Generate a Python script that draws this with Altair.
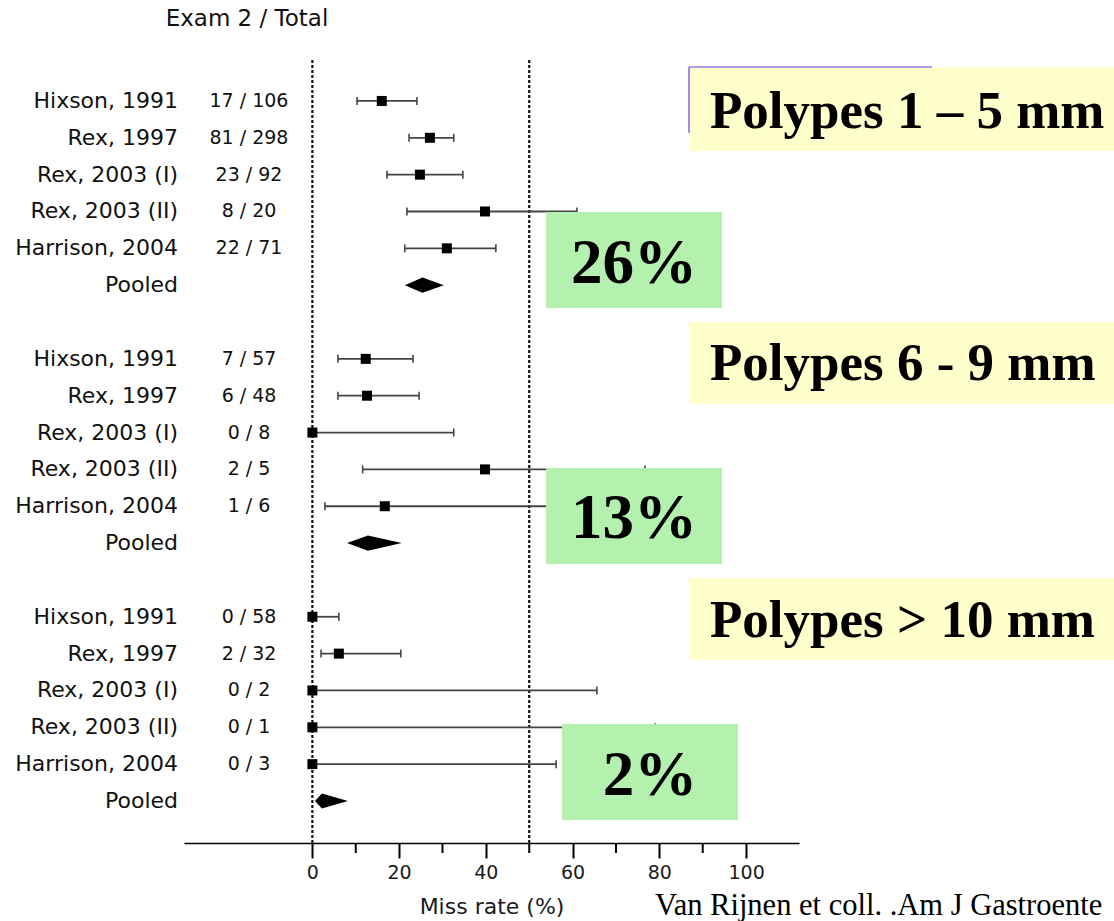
import altair as alt
import pandas as pd

# ---------------- data ----------------
studies = ["Hixson, 1991", "Rex, 1997", "Rex, 2003 (I)", "Rex, 2003 (II)", "Harrison, 2004"]
counts_1 = ["17 / 106", "81 / 298", "23 / 92", "8 / 20", "22 / 71"]
counts_2 = ["7 / 57", "6 / 48", "0 / 8", "2 / 5", "1 / 6"]
counts_3 = ["0 / 58", "2 / 32", "0 / 2", "0 / 1", "0 / 3"]

est_1 = [16.0, 27.1, 24.8, 39.8, 31.0]
lo_1 = [10.3, 22.3, 17.2, 21.8, 21.3]
hi_1 = [24.1, 32.6, 34.7, 61.0, 42.3]

est_2 = [12.3, 12.6, 0.0, 39.8, 16.7]
lo_2 = [5.9, 5.9, 0.0, 11.6, 2.9]
hi_2 = [23.2, 24.6, 32.6, 76.7, 64.0]

est_3 = [0.0, 6.1, 0.0, 0.0, 0.0]
lo_3 = [0.0, 2.0, 0.0, 0.0, 0.0]
hi_3 = [6.1, 20.4, 65.6, 79.0, 56.2]

pooled_est = [25.4, 12.8, 2.2]
pooled_lo = [21.3, 8.0, 0.6]
pooled_hi = [30.3, 20.6, 8.2]

ref_lines = [0, 50]
major_ticks = [0, 20, 40, 60, 80, 100]
minor_ticks = [10, 30, 50, 70, 90]

group_titles = ["Polypes 1 \u2013 5 mm", "Polypes 6 - 9 mm", "Polypes > 10 mm"]
group_pcts = ["26%", "13%", "2%"]

# ---------------- tables ----------------
counts = [counts_1, counts_2, counts_3]
ests = [est_1, est_2, est_3]
los = [lo_1, lo_2, lo_3]
his = [hi_1, hi_2, hi_3]

rows = []
labels = []
for g in range(3):
    for j in range(5):
        r = 7 * g + j
        rows.append(dict(row=r, est=ests[g][j], lo=los[g][j], hi=his[g][j]))
        labels.append(dict(row=r, name=studies[j], count=counts[g][j]))
    labels.append(dict(row=7 * g + 5, name="Pooled", count=""))
df = pd.DataFrame(rows)
lab = pd.DataFrame(labels)

caps = pd.DataFrame(
    [dict(row=r["row"], v=r["lo"]) for r in rows] + [dict(row=r["row"], v=r["hi"]) for r in rows]
)

H = 0.205  # half height of the pooled diamond in row units
dia = []
for g in range(3):
    r = 7 * g + 5
    dia.append(dict(grp=g, x=pooled_lo[g], y1=r, y2=r))
    dia.append(dict(grp=g, x=pooled_est[g], y1=r - H, y2=r + H))
    dia.append(dict(grp=g, x=pooled_hi[g], y1=r, y2=r))
dia = pd.DataFrame(dia)

# ---------------- scales ----------------
x_scale = alt.Scale(domain=[-29.6, 112.2], nice=False, zero=False)
y_scale = alt.Scale(domain=[-2.74, 20.14], nice=False, zero=False, reverse=True)
x_axis = alt.Axis(
    values=major_ticks, tickSize=15, tickWidth=2, tickColor="black",
    domainColor="black", domainWidth=1.5, grid=False,
    labelFont="DejaVu Sans", labelFontSize=19, labelColor="#1a1a1a", labelPadding=5,
    title="Miss rate (%)", titleFont="DejaVu Sans", titleFontSize=22,
    titleFontWeight="normal", titleColor="#1a1a1a", titlePadding=14,
)

def X(field):
    return alt.X(field, scale=x_scale, axis=x_axis)

def Y(field):
    return alt.Y(field, scale=y_scale, axis=None)

base = alt.Chart(df)

ref = alt.Chart(pd.DataFrame({"v": ref_lines})).mark_rule(
    color="#111", strokeWidth=2.2, strokeDash=[3, 2]
).encode(x=X("v:Q"), y=alt.value(60), y2=alt.value(843))

minor = alt.Chart(pd.DataFrame({"v": minor_ticks})).mark_rule(
    color="black", strokeWidth=2
).encode(x=X("v:Q"), y=alt.value(843), y2=alt.value(853))

ci = base.mark_rule(color="#444", strokeWidth=1.8).encode(
    x=X("lo:Q"), x2="hi:Q", y=Y("row:Q")
)
capm = alt.Chart(caps).mark_tick(
    orient="vertical", size=8, thickness=1.6, color="#444", opacity=1
).encode(x=X("v:Q"), y=Y("row:Q"))
sq = base.mark_square(size=100, color="black", opacity=1).encode(
    x=X("est:Q"), y=Y("row:Q")
)
diamond = alt.Chart(dia).mark_area(color="black", opacity=1).encode(
    x=X("x:Q"), y=Y("y1:Q"), y2="y2:Q", detail="grp:N"
)

names = alt.Chart(lab).mark_text(
    align="right", baseline="middle", font="DejaVu Sans", fontSize=22, color="#111"
).encode(x=alt.value(-6), y=Y("row:Q"), text="name:N")
cnts = alt.Chart(lab).mark_text(
    align="center", baseline="middle", font="DejaVu Sans", fontSize=19, color="#111"
).encode(x=alt.value(65), y=Y("row:Q"), text="count:N")

one = pd.DataFrame({"a": [0]})
header = alt.Chart(one).mark_text(
    text="Exam 2 / Total", align="center", baseline="middle",
    font="DejaVu Sans", fontSize=23, color="#111"
).encode(x=alt.value(63), y=alt.value(19))

layers = [ref, minor, ci, capm, sq, diamond, names, cnts, header]

# yellow title boxes
ybox = [(67, 151, 128), (322, 404, 380), (578, 660, 637)]
for (t, b, base_y), txt in zip(ybox, group_titles):
    layers.append(alt.Chart(one).mark_rect(color="#FFFFCC").encode(
        x=alt.value(505), x2=alt.value(940), y=alt.value(t), y2=alt.value(b)))
    layers.append(alt.Chart(one).mark_text(
        text=txt, align="left", baseline="alphabetic", font="Liberation Serif",
        fontWeight="bold", fontSize=53, color="black"
    ).encode(x=alt.value(526), y=alt.value(base_y)))

# purple frame fragment on first box
layers.append(alt.Chart(one).mark_rule(color="#6A3DE8", strokeWidth=1.2).encode(
    x=alt.value(505), x2=alt.value(748), y=alt.value(67)))
layers.append(alt.Chart(one).mark_rule(color="#6A3DE8", strokeWidth=1.2).encode(
    x=alt.value(505), y=alt.value(67), y2=alt.value(133)))

# green percentage boxes
gbox = [(362, 538, 212, 308, 283), (362, 538, 468, 564, 538), (378, 554, 724, 820, 795)]
for (l, r, t, b, base_y), txt in zip(gbox, group_pcts):
    layers.append(alt.Chart(one).mark_rect(color="#B4F0AE").encode(
        x=alt.value(l), x2=alt.value(r), y=alt.value(t), y2=alt.value(b)))
    layers.append(alt.Chart(one).mark_text(
        text=txt, align="center", baseline="alphabetic", font="Liberation Serif",
        fontWeight="bold", fontSize=63, color="black"
    ).encode(x=alt.value((l + r) / 2), y=alt.value(base_y)))

layers.append(alt.Chart(one).mark_text(
    text="Van Rijnen et coll. .Am J Gastroente", align="left", baseline="alphabetic",
    font="Liberation Serif", fontSize=30.5, color="black"
).encode(x=alt.value(471), y=alt.value(915)))

chart = alt.layer(*layers).properties(
    width=615, height=843,
    autosize=alt.AutoSizeParams(type="none"),
    padding={"left": 184, "top": 0, "right": 315, "bottom": 78},
    background="white",
).configure_view(strokeWidth=0)

chart.save("out.html", embed_options={"renderer": "svg", "actions": False})
